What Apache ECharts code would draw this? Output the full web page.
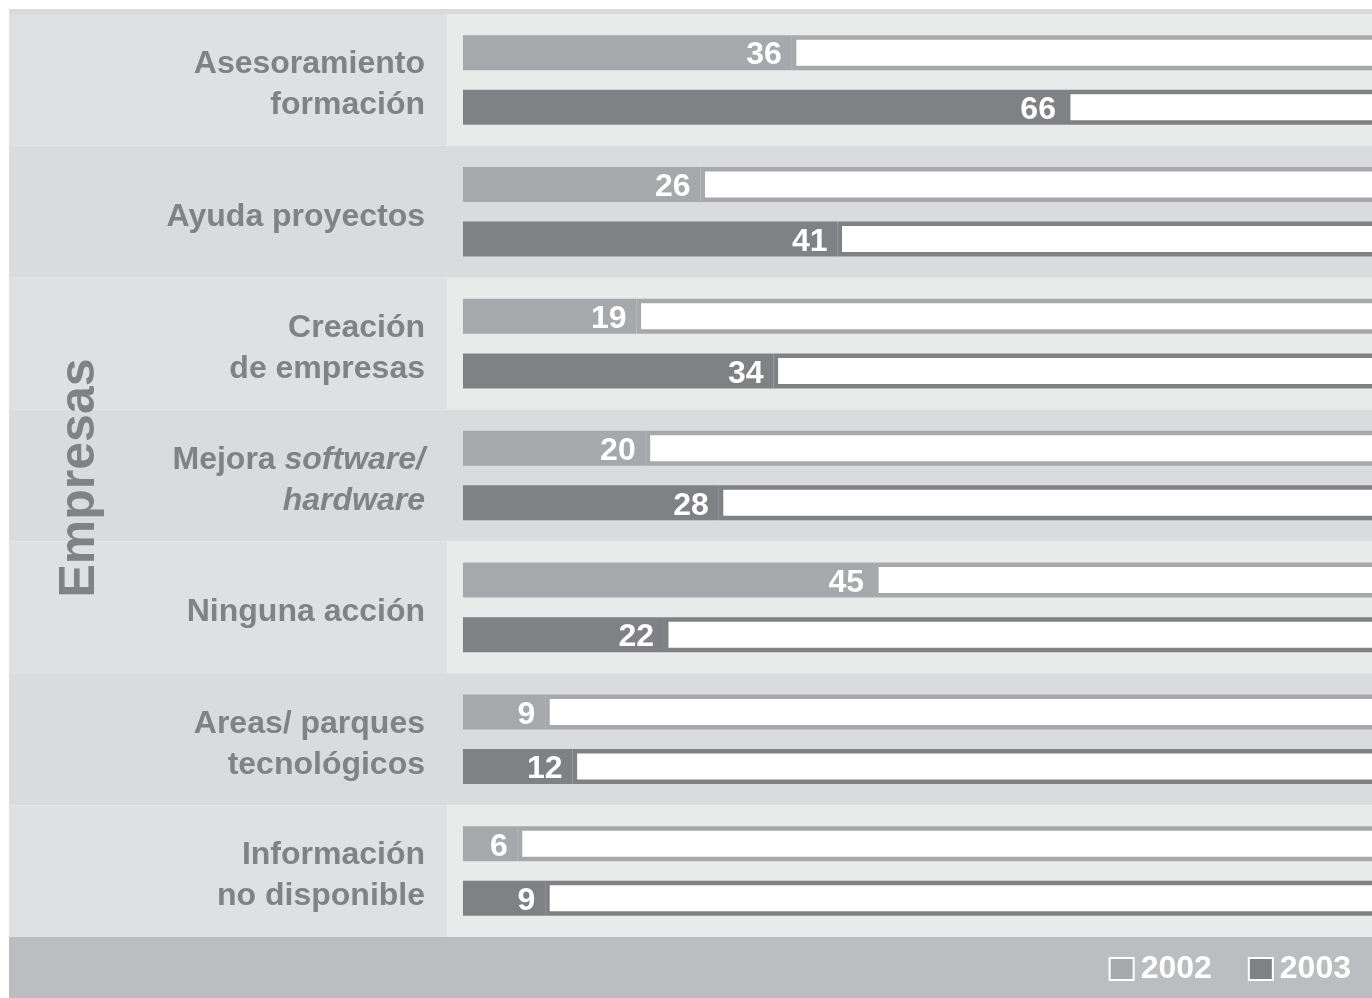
<!DOCTYPE html>
<html>
<head>
<meta charset="utf-8">
<style>
  html, body { margin: 0; padding: 0; background: #fff; }
  #chart { width: 1372px; height: 998px; }
</style>
<script src="https://cdn.jsdelivr.net/npm/echarts@6/dist/echarts.min.js"></script>
</head>
<body>
<div id="chart"></div>
<script>
// data (per cent)
var categories = [
  'Asesoramiento\nformación',
  'Ayuda proyectos',
  'Creación\nde empresas',
  'Mejora software/\nhardware',
  'Ninguna acción',
  'Areas/ parques\ntecnológicos',
  'Información\nno disponible'
]
var values2002 = [36, 26, 19, 20, 45, 9, 6]
var values2003 = [66, 41, 34, 28, 22, 12, 9]
var italicWords = ['software/', 'hardware']
var total = 100

var FONT = '"Liberation Sans", Arial, sans-serif'
var TEXT_GREY = '#818285'
var C2002 = '#a7a8ab'
var C2003 = '#808185'

var chart = echarts.init(document.getElementById('chart'))

function rest(arr) {
  return arr.map(function (v) { return total - v })
}

function valueSeries(name, data, color, stack) {
  return {
    name: name,
    type: 'bar',
    stack: stack,
    barWidth: 35,
    barGap: '56%',
    data: data,
    itemStyle: { color: color, borderColor: color, borderWidth: 4.5 },
    label: {
      show: true,
      position: 'insideRight',
      distance: 10,
      offset: [0, 3],
      color: '#fff',
      fontFamily: FONT,
      fontWeight: 'bold',
      fontSize: 32
    }
  }
}

// white remainder up to 100 %, runs past the right edge of the page
function restSeries(name, data, color, stack) {
  return {
    name: name,
    type: 'bar',
    stack: stack,
    barWidth: 35,
    data: data,
    silent: true,
    clip: false,
    itemStyle: { color: '#fff', borderColor: color, borderWidth: 4.5 }
  }
}

chart.setOption({
  animation: false,
  backgroundColor: '#fff',
  grid: [
    { left: 447, top: 14, right: 0, height: 923 },
    { left: 9, top: 14, width: 438, height: 923 }
  ],
  xAxis: [
    { type: 'value', gridIndex: 0, min: -1.75, max: 99.5, show: false },
    { type: 'value', gridIndex: 1, show: false }
  ],
  yAxis: [
    {
      type: 'category',
      gridIndex: 0,
      inverse: true,
      data: categories,
      axisLine: { show: false },
      axisTick: { show: false },
      splitArea: { show: true, areaStyle: { color: ['#e9eaea', '#dadbdd'] } },
      axisLabel: {
        margin: 22,
        padding: [10, 0, 0, 0],
        color: TEXT_GREY,
        fontFamily: FONT,
        fontWeight: 'bold',
        fontSize: 32,
        lineHeight: 41,
        formatter: function (v) {
          return v.split('\n').map(function (line) {
            return line.split(' ').map(function (w) {
              return italicWords.indexOf(w) >= 0 ? '{i|' + w + '}' : '{n|' + w + '}'
            }).join('{n| }')
          }).join('\n')
        },
        rich: {
          n: { color: TEXT_GREY, fontFamily: FONT, fontWeight: 'bold', fontSize: 32, lineHeight: 41 },
          i: { color: TEXT_GREY, fontFamily: FONT, fontWeight: 'bold', fontStyle: 'italic', fontSize: 32, lineHeight: 41 }
        }
      }
    },
    {
      type: 'category',
      gridIndex: 1,
      inverse: true,
      data: categories,
      z: -1,
      axisLine: { show: false },
      axisTick: { show: false },
      axisLabel: { show: false },
      splitArea: { show: true, areaStyle: { color: ['#dfe0e2', '#dadbdd'] } }
    }
  ],
  legend: {
    data: ['2002', '2003'],
    right: 16,
    top: 948,
    itemWidth: 24,
    itemHeight: 22,
    itemGap: 36,
    icon: 'rect',
    itemStyle: { borderColor: '#fff', borderWidth: 2 },
    textStyle: { color: '#fff', fontFamily: FONT, fontWeight: 'bold', fontSize: 32, padding: [0, 0, 0, 2] }
  },
  graphic: [
    { type: 'rect', shape: { x: 9, y: 9, width: 1363, height: 5 }, style: { fill: '#d9dadc' }, z: -1 },
    { type: 'rect', shape: { x: 9, y: 937, width: 1363, height: 61 }, style: { fill: '#bcbdc0' }, z: -1 },
    {
      type: 'text',
      x: 80, y: 478,
      rotation: Math.PI / 2,
      z: 10,
      style: {
        text: 'Empresas',
        fill: TEXT_GREY,
        font: 'bold 50px ' + FONT,
        align: 'center',
        verticalAlign: 'middle'
      }
    }
  ],
  series: [
    valueSeries('2002', values2002, C2002, 'a'),
    restSeries('resto 2002', rest(values2002), C2002, 'a'),
    valueSeries('2003', values2003, C2003, 'b'),
    restSeries('resto 2003', rest(values2003), C2003, 'b')
  ]
})
</script>
</body>
</html>
